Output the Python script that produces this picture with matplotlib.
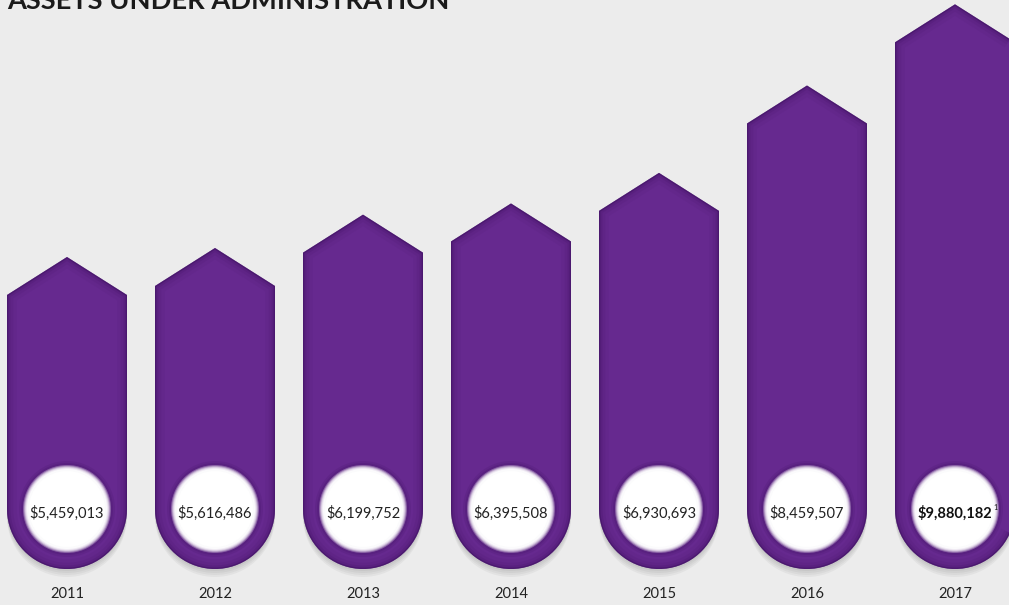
import numpy as np
import matplotlib.pyplot as plt
from matplotlib.patches import Polygon, Ellipse

plt.rcParams['font.family'] = ['Lato', 'DejaVu Sans']

# data: assets under administration (USD)
years = ["2011", "2012", "2013", "2014", "2015", "2016", "2017"]
assets = [5459013, 5616486, 6199752, 6395508, 6930693, 8459507, 9880182]

# pixel scale of the original picture
PX_Y = 57.15   # pixels per million
PX_X = 148.0   # pixels per bar slot
W, H = 1009, 605

purple = "#66298f"
dark = "#3e1260"
bg = "#ececec"

fig = plt.figure(figsize=(W / 100, H / 100), dpi=100, facecolor=bg)
ax = fig.add_axes([0, 0, 1, 1])
ax.set_xlim(-67 / PX_X, (W - 67) / PX_X)
ax.set_ylim(-(H - 569) / PX_Y, 569 / PX_Y)
ax.set_facecolor(bg)
ax.axis("off")

hw = 60 / PX_X          # half width of the bars
tip = 38 / PX_Y          # height of the arrow head
ry = 60 / PX_Y           # vertical radius of the round bottom
theta = np.linspace(0, np.pi, 40)

for i, (yr, val) in enumerate(zip(years, assets)):
    v = val / 1e6
    pts = [(i - hw, v - tip), (i, v), (i + hw, v - tip), (i + hw, ry)]
    pts += [(i + hw * np.cos(t), ry - ry * np.sin(t)) for t in theta]
    pts += [(i - hw, ry)]

    # soft drop shadow under the bar
    for k in range(4):
        sh = Polygon([(x, y - (2 + k * 2) / PX_Y) for x, y in pts], closed=True,
                     facecolor="#000000", alpha=0.04, edgecolor="none", zorder=1)
        ax.add_patch(sh)

    body = Polygon(pts, closed=True, facecolor=purple, edgecolor="none", zorder=2)
    ax.add_patch(body)
    # inner shadow along the edges
    for lw, a in [(14, 0.07), (9, 0.1), (5, 0.18), (2, 0.5)]:
        edge = Polygon(pts, closed=True, facecolor="none", edgecolor=dark,
                       linewidth=lw, alpha=a, zorder=3)
        edge.set_clip_path(body)
        ax.add_patch(edge)

    # glowing white disc with the value (dark rim, then soft white)
    cy = 60 / PX_Y
    for r, a, c in [(48, 0.15, dark), (46, 0.2, dark),
                    (44, 0.3, "white"), (43, 0.4, "white"), (42, 0.5, "white"),
                    (41, 0.6, "white"), (40, 0.8, "white"), (38, 1.0, "white")]:
        ax.add_patch(Ellipse((i, cy), 2 * r / PX_X, 2 * r / PX_Y,
                             facecolor=c, edgecolor="none", alpha=a, zorder=4))

    label = "\\$" + f"{val:,}"
    if i == len(years) - 1:
        t = ax.text(i, cy - 4 / PX_Y, label, ha="center", va="center", fontsize=10.5,
                    fontweight="bold", color="#111111", zorder=5)
        ax.annotate("1", xy=(1, 0.85), xycoords=t, xytext=(0.5, 0),
                    textcoords="offset points", fontsize=5, va="center",
                    ha="left", color="#111111", zorder=5)
    else:
        ax.text(i, cy - 4 / PX_Y, label, ha="center", va="center", fontsize=10.5,
                color="#222222", zorder=5)

    ax.text(i, -25 / PX_Y, yr, ha="center", va="center", fontsize=10.5,
            color="#222222")

fig.text(7 / W, 1 - 9 / H, "ASSETS UNDER ADMINISTRATION", ha="left",
         va="baseline", fontsize=19.6, fontweight="bold", color="#1a1a1a")

fig.savefig("out.png", dpi=100, facecolor=bg)
